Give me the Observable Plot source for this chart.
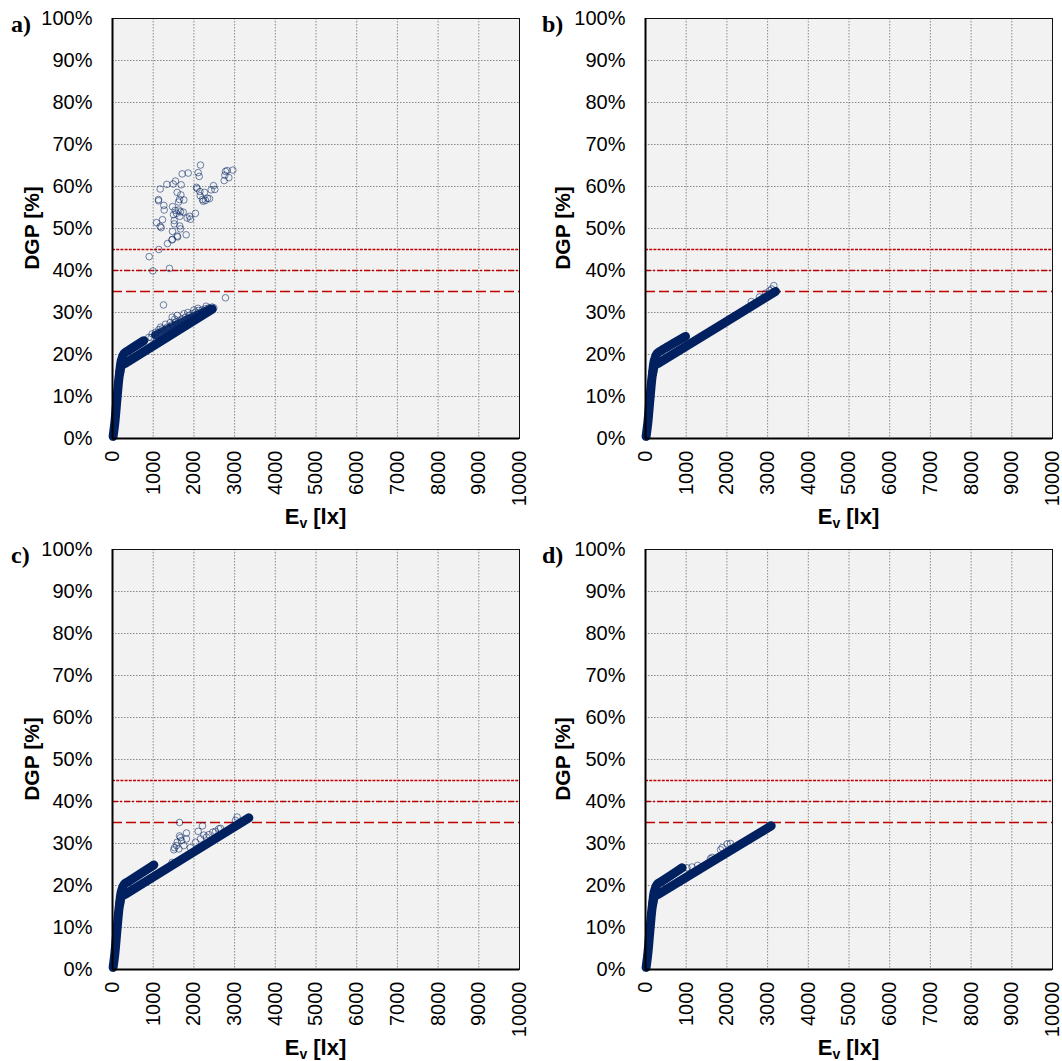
<!DOCTYPE html>
<html><head><meta charset="utf-8">
<script src="https://cdn.jsdelivr.net/npm/d3@7"></script>
<script src="https://cdn.jsdelivr.net/npm/@observablehq/plot@0.6"></script>
<style>
body{margin:0;background:#fff;}
#wrap{position:relative;width:1062px;height:1061px;font-family:"Liberation Sans",Arial,sans-serif;color:#000;overflow:hidden;}
.panel{position:absolute;width:531px;height:530px;}
.letter{position:absolute;font-family:"Liberation Serif","Times New Roman",serif;font-weight:bold;font-size:24px;line-height:1;}
.xlab{position:absolute;font-weight:bold;font-size:22px;transform:translateX(-50%);white-space:nowrap;line-height:1;}
.xlab sub{font-size:14px;vertical-align:-4px;line-height:0;}
.ylab{position:absolute;font-weight:bold;font-size:21px;transform:translate(-50%,-50%) rotate(-90deg);white-space:nowrap;line-height:1;}
</style></head><body><div id="wrap"></div>
<script>
// ---- data (E_v in lx, DGP in %) ----
const panelLetters = ["a)", "b)", "c)", "d)"];
const xTicks = [0,1000,2000,3000,4000,5000,6000,7000,8000,9000,10000];
const yTicks = [0,10,20,30,40,50,60,70,80,90,100];
const thresholds = [35, 40, 45];

// dense bands (read along the centre of the solid navy bands)
const lowerA = [[15,0.5],[60,4],[115,10],[175,15.5],[230,17.4],[330,18],[2450,30.8]];
const upperA = [[175,15.5],[215,18.5],[280,20.2],[400,21],[770,23.3]];
const clusterA = [[1050,24.6],[1500,26.8],[2000,29.1],[2400,30.9]];
const lowerB = [[15,0.5],[60,4],[115,10],[175,15.5],[230,17.4],[330,18],[3194,35]];
const upperB = [[175,15.5],[215,18.5],[280,20.2],[400,21],[983,24.3]];
const lowerC = [[15,0.5],[60,4],[115,10],[175,15.5],[230,17.4],[330,18],[3350,36.1]];
const upperC = [[175,15.5],[215,18.5],[280,20.2],[400,21],[1016,24.9]];
const lowerD = [[15,0.5],[60,4],[115,10],[175,15.5],[230,17.4],[330,18],[3088,34.2]];
const upperD = [[175,15.5],[215,18.5],[280,20.2],[400,21],[901,24.2]];

// scattered circles
const dotsA = [
 [2162,65.1],[1712,63.0],[1860,63.2],[2105,63.3],[2130,62.4],[2776,63.6],[2818,63.8],[2957,63.9],
 [2760,62.7],[2859,62.1],[2744,61.4],[1335,60.5],[1491,60.6],[1548,61.3],[1687,60.4],[1171,59.4],
 [2064,59.8],[2080,59.5],[2260,58.6],[2146,58.8],[2482,60.2],[2514,59.3],[2425,59.2],[1589,58.6],
 [1680,58.0],[1753,56.8],[1646,56.9],[1622,56.3],[1130,56.9],[1130,56.6],[1261,55.5],[1270,54.4],
 [1474,55.2],[2155,57.8],[2211,56.9],[2334,57.2],[2383,57.1],[2228,56.5],[2285,56.7],[1540,54.3],
 [1630,54.4],[1572,53.6],[1671,54.0],[1736,53.9],[1654,52.9],[1499,53.3],[1834,52.5],[1892,52.9],
 [1916,52.2],[2039,53.6],[1517,51.9],[1081,51.4],[1229,52.1],[1196,50.2],[1171,50.5],[1517,51.1],
 [1654,50.6],[1671,49.9],[1474,49.3],[1589,48.2],[1600,48.0],[1474,47.4],[1460,47.3],[1810,48.5],
 [1351,46.4],[1139,45.0],[901,43.3],[991,39.9],[1400,40.5],[2776,33.5],[1253,31.8],
 [893,24.1],[975,24.9],[1057,25.3],[1139,25.9],[1221,26.1],[1343,26.5],[1466,27.1],[1548,27.7],
 [1630,28.1],[1712,28.5],[1794,28.9],[1876,29.3],[1957,29.7],[2039,30.1],[2121,30.5],[2203,30.6],
 [2285,30.9],[2367,31.1],[2449,31.3],[2490,31.1],[1466,28.9],[1589,29.3],[1753,29.7],[1180,26.5],
 [1300,27.2],[1420,27.6],[1530,28.4],[1850,30.0],[2000,30.6],[2100,31.0],[2300,31.5],[950,24.0],[1050,24.6]
];
const dotsB = [[3153,36.4],[3100,35.6],[3050,35.2],[2950,34.6],[2800,33.7],[2600,32.6]];
const dotsC = [
 [1646,35.0],[2211,34.2],[1818,32.5],[1646,31.8],[2105,32.9],[2244,32.0],[2465,32.7],[2654,33.6],
 [3063,36.3],[3022,35.5],[1589,30.3],[1695,30.7],[1523,29.0],[1507,28.5],[1630,28.7],[1753,29.5],
 [1818,31.1],[1916,29.0],[2039,30.3],[2162,31.1],[2310,31.5],[2367,32.1],[2531,32.9],[2613,33.5],
 [1671,31.4],[1572,29.5],[1466,25.5],[1000,25.0],[960,24.6]
];
const dotsD = [
 [1843,28.5],[1884,29.0],[2007,29.9],[2088,30.0],[1020,24.2],[1143,24.4],[1281,24.8],[1597,26.4],
 [1638,26.7],[900,24.3],[3050,34.4]
];

// ---- drawing ----
const navy = "#002060";
const red = "#c00000";
const panels = [
  {lower: lowerA, upper: upperA, extra: clusterA, dots: dotsA},
  {lower: lowerB, upper: upperB, extra: null, dots: dotsB},
  {lower: lowerC, upper: upperC, extra: null, dots: dotsC},
  {lower: lowerD, upper: upperD, extra: null, dots: dotsD}
];
const layout = [
  {left: 0, top: 0, ml: 112},
  {left: 531, top: 0, ml: 114},
  {left: 0, top: 531, ml: 112},
  {left: 531, top: 531, ml: 114}
];
const plotW = 407;
const wrap = document.getElementById("wrap");

panels.forEach((p, i) => {
  const L = layout[i];
  const marks = [
    Plot.frame({fill: "#f2f2f2", stroke: null}),
    Plot.gridX(xTicks.slice(1, -1), {stroke: "#8a8a8a", strokeOpacity: 1, strokeDasharray: "1.5,1.5"}),
    Plot.gridY(yTicks.slice(1, -1), {stroke: "#8a8a8a", strokeOpacity: 1, strokeDasharray: "1.5,1.5"}),
    Plot.ruleY([thresholds[0]], {stroke: red, strokeWidth: 1.7, strokeDasharray: "10,4"}),
    Plot.ruleY([thresholds[1]], {stroke: red, strokeWidth: 1.7, strokeDasharray: "6,2,2,2"}),
    Plot.ruleY([thresholds[2]], {stroke: red, strokeWidth: 1.4, strokeDasharray: "3,1.2"})
  ];
  if (p.extra) marks.push(Plot.line(p.extra, {x: d => d[0], y: d => d[1], stroke: navy, strokeWidth: 8, strokeOpacity: 0.9, strokeLinecap: "round", strokeLinejoin: "round"}));
  marks.push(
    Plot.line(p.upper, {x: d => d[0], y: d => d[1], stroke: navy, strokeWidth: 9, strokeLinecap: "round", strokeLinejoin: "round", curve: "catmull-rom"}),
    Plot.line(p.lower, {x: d => d[0], y: d => d[1], stroke: navy, strokeWidth: 9, strokeLinecap: "round", strokeLinejoin: "round", curve: "catmull-rom"}),
    Plot.dot(p.dots, {x: d => d[0], y: d => d[1], r: 3.3, stroke: navy, strokeOpacity: 0.55, strokeWidth: 1, fill: "none"}),
    Plot.frame({stroke: "#111", strokeWidth: 1}),
    Plot.ruleX([0], {stroke: "#000", strokeWidth: 2}),
    Plot.ruleY([0], {stroke: "#000", strokeWidth: 2}),
    Plot.axisY(yTicks, {tickFormat: d => d + "%", tickSize: 0, tickPadding: 20, fontSize: 20, label: null}),
    Plot.axisX(xTicks, {tickFormat: d => String(d), tickRotate: -90, tickSize: 0, tickPadding: 12, fontSize: 20, label: null})
  );
  const chart = Plot.plot({
    width: 531, height: 530,
    marginLeft: L.ml, marginRight: 531 - L.ml - plotW, marginTop: 18, marginBottom: 92,
    style: {fontFamily: "Liberation Sans, Arial, sans-serif", fontSize: "20px", color: "#000", background: "transparent", overflow: "visible"},
    x: {domain: [0, 10000]},
    y: {domain: [0, 100]},
    marks
  });
  const div = document.createElement("div");
  div.className = "panel";
  div.style.left = L.left + "px";
  div.style.top = L.top + "px";
  div.appendChild(chart);
  wrap.appendChild(div);

  const letter = document.createElement("div");
  letter.className = "letter";
  letter.textContent = panelLetters[i];
  letter.style.left = (L.left + 11) + "px";
  letter.style.top = (L.top + 12) + "px";
  wrap.appendChild(letter);

  const xl = document.createElement("div");
  xl.className = "xlab";
  xl.innerHTML = "E<sub>v</sub> [lx]";
  xl.style.left = (L.left + L.ml + plotW / 2) + "px";
  xl.style.top = (L.top + 506) + "px";
  wrap.appendChild(xl);

  const yl = document.createElement("div");
  yl.className = "ylab";
  yl.textContent = "DGP [%]";
  yl.style.left = (L.left + 31) + "px";
  yl.style.top = (L.top + 228) + "px";
  wrap.appendChild(yl);
});
</script>
</body></html>
